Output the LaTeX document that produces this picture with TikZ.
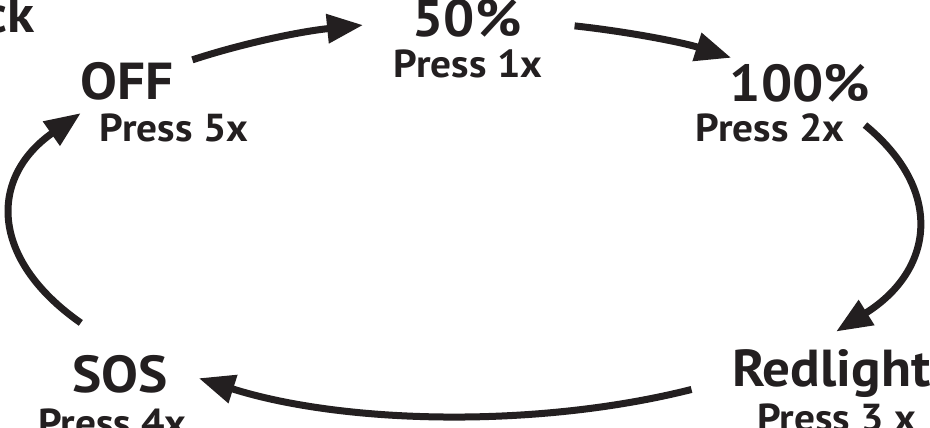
\documentclass[tikz,border=0pt]{standalone}
\usepackage{fontspec}
\setmainfont[FakeStretch=1.06]{PT Sans}
\usetikzlibrary{arrows.meta}
\definecolor{ink}{HTML}{231F20}

\begin{document}
\begin{tikzpicture}[x=1pt, y=1pt, >={Triangle[length=36pt, width=28pt]},
    mode/.style={font=\bfseries\fontsize{52}{52}\selectfont, text=ink, inner sep=0pt},
    press/.style={font=\bfseries\fontsize{39}{39}\selectfont, text=ink, inner sep=0pt},
    flow/.style={->, draw=ink, line width=7pt}]
    \useasboundingbox (0,0) rectangle (930,428);
    % tâm của vòng elip
    \coordinate (c) at (465,210);
    \node[mode, anchor=base east] (click) at (35,395) {ck};
    \node[mode, anchor=base] (off) at (127,328) {OFF};
    \node[press, anchor=base] (offp) at (174,286) {Press 5x};
    \node[mode, anchor=base] (half) at (467,391) {50\%};
    \node[press, anchor=base] (halfp) at (468,350) {Press 1x};
    \node[mode, anchor=base] (full) at (800,326) {100\%};
    \node[press, anchor=base] (fullp) at (770,286) {Press 2x};
    \node[mode, anchor=base west] (red) at (732,41) {Redlight};
    \node[press, anchor=base west] (redp) at (757,-4) {Press 3 x};
    \node[mode, anchor=base] (sos) at (120,35) {SOS};
    \node[press, anchor=base west] (sosp) at (38,-9) {Press 4x};
    % đầu các mũi tên trên elip
    \coordinate (a1) at ([shift={(127:453pt and 198pt)}]c);
    \coordinate (a2) at ([shift={(76:453pt and 198pt)}]c);
    \coordinate (a3) at ([shift={(28:453pt and 198pt)}]c);
    \coordinate (a4) at ([shift={(-60:453pt and 198pt)}]c);
    \coordinate (a5) at ([shift={(212:453pt and 198pt)}]c);
    \draw[flow] (a1) arc[start angle=127, end angle=103, x radius=453pt, y radius=198pt];
    \draw[flow] (a2) arc[start angle=76, end angle=54, x radius=453pt, y radius=198pt];
    \draw[flow] (a3) arc[start angle=28, end angle=-35, x radius=453pt, y radius=198pt];
    \draw[flow] (a4) arc[start angle=-60, end angle=-126, x radius=453pt, y radius=198pt];
    \draw[flow] (a5) arc[start angle=212, end angle=148, x radius=453pt, y radius=198pt];
\end{tikzpicture}
\end{document}
